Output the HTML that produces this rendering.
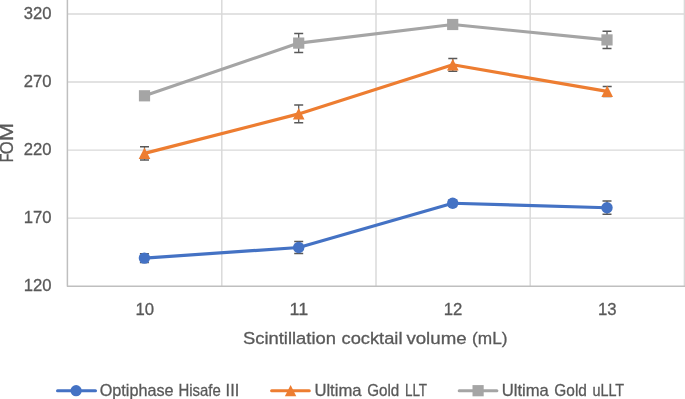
<!DOCTYPE html>
<html lang="en"><head><meta charset="utf-8"><title>FOM vs scintillation cocktail volume</title>
<style>html,body{margin:0;padding:0;background:#fff;overflow:hidden}svg{display:block}</style></head>
<body>
<svg width="685" height="399" viewBox="0 0 685 399">
<rect width="685" height="399" fill="#fff"/>
<g stroke="#d9d9d9" stroke-width="1.45" fill="none">
<line x1="67.4" y1="14.05" x2="685" y2="14.05"/>
<line x1="67.4" y1="82.05" x2="685" y2="82.05"/>
<line x1="67.4" y1="150.1" x2="685" y2="150.1"/>
<line x1="67.4" y1="218.1" x2="685" y2="218.1"/>
<line x1="221.80" y1="0" x2="221.80" y2="286.15"/>
<line x1="376.00" y1="0" x2="376.00" y2="286.15"/>
<line x1="530.20" y1="0" x2="530.20" y2="286.15"/>
<line x1="684.40" y1="0" x2="684.40" y2="286.15"/>
</g>
<path d="M67.4 0V286.15H685" stroke="#bfbfbf" stroke-width="1.5" fill="none" stroke-linejoin="round"/>
<path d="M144.4 258.1L298.7 247.5L452.7 203.3L607.0 207.7" stroke="#4472c4" stroke-width="3.15" fill="none" stroke-linejoin="round" stroke-linecap="round"/>
<g stroke="#595959" stroke-width="1.2" fill="none"><path d="M139.9 253.8h9M139.9 262.4h9" stroke-width="1.5"/><path d="M144.4 253.8V262.4" stroke-width="1.25"/><path d="M294.2 241.4h9M294.2 253.6h9" stroke-width="1.5"/><path d="M298.7 241.4V253.6" stroke-width="1.25"/><path d="M448.2 200.3h9M448.2 206.3h9" stroke-width="1.5"/><path d="M452.7 200.3V206.3" stroke-width="1.25"/><path d="M602.5 201.1h9M602.5 214.3h9" stroke-width="1.5"/><path d="M607.0 201.1V214.3" stroke-width="1.25"/></g>
<circle cx="144.4" cy="258.1" r="5.7" fill="#4472c4"/>
<circle cx="298.7" cy="247.5" r="5.7" fill="#4472c4"/>
<circle cx="452.7" cy="203.3" r="5.7" fill="#4472c4"/>
<circle cx="607.0" cy="207.7" r="5.7" fill="#4472c4"/>
<path d="M144.5 153.4L298.7 113.9L452.8 64.8L607.2 91.4" stroke="#ed7d31" stroke-width="3.15" fill="none" stroke-linejoin="round" stroke-linecap="round"/>
<g stroke="#595959" stroke-width="1.2" fill="none"><path d="M140.0 146.7h9M140.0 160.1h9" stroke-width="1.5"/><path d="M144.5 146.7V160.1" stroke-width="1.25"/><path d="M294.2 105.1h9M294.2 122.7h9" stroke-width="1.5"/><path d="M298.7 105.1V122.7" stroke-width="1.25"/><path d="M448.3 58.4h9M448.3 71.2h9" stroke-width="1.5"/><path d="M452.8 58.4V71.2" stroke-width="1.25"/><path d="M602.7 86.4h9M602.7 96.4h9" stroke-width="1.5"/><path d="M607.2 86.4V96.4" stroke-width="1.25"/></g>
<path d="M144.5 147.4L150.3 159.0H138.7Z" fill="#ed7d31"/>
<path d="M298.7 107.9L304.5 119.5H292.9Z" fill="#ed7d31"/>
<path d="M452.8 58.8L458.6 70.4H447.0Z" fill="#ed7d31"/>
<path d="M607.2 85.4L613.0 97.0H601.4Z" fill="#ed7d31"/>
<path d="M144.5 95.8L298.7 43.1L452.7 24.5L607.0 39.9" stroke="#a5a5a5" stroke-width="3.15" fill="none" stroke-linejoin="round" stroke-linecap="round"/>
<g stroke="#595959" stroke-width="1.2" fill="none"><path d="M294.2 33.6h9M294.2 52.6h9" stroke-width="1.5"/><path d="M298.7 33.6V52.6" stroke-width="1.25"/><path d="M602.5 31.3h9M602.5 48.5h9" stroke-width="1.5"/><path d="M607.0 31.3V48.5" stroke-width="1.25"/></g>
<rect x="138.9" y="90.2" width="11.2" height="11.2" fill="#a5a5a5"/>
<rect x="293.1" y="37.5" width="11.2" height="11.2" fill="#a5a5a5"/>
<rect x="447.1" y="18.9" width="11.2" height="11.2" fill="#a5a5a5"/>
<rect x="601.4" y="34.3" width="11.2" height="11.2" fill="#a5a5a5"/>
<g fill="#595959" stroke="#595959" stroke-width="0.3" font-family="'Liberation Sans', sans-serif">
<text x="23.8" y="19.3" font-size="17" textLength="27.8" lengthAdjust="spacingAndGlyphs">320</text>
<text x="23.8" y="87.3" font-size="17" textLength="27.8" lengthAdjust="spacingAndGlyphs">270</text>
<text x="23.8" y="155.3" font-size="17" textLength="27.8" lengthAdjust="spacingAndGlyphs">220</text>
<text x="23.8" y="223.3" font-size="17" textLength="27.8" lengthAdjust="spacingAndGlyphs">170</text>
<text x="23.8" y="291.3" font-size="17" textLength="27.8" lengthAdjust="spacingAndGlyphs">120</text>
<text x="135.5" y="314.7" font-size="17" textLength="18.6" lengthAdjust="spacingAndGlyphs">10</text>
<text x="289.6" y="314.7" font-size="17" textLength="18.6" lengthAdjust="spacingAndGlyphs">11</text>
<text x="443.7" y="314.7" font-size="17" textLength="18.6" lengthAdjust="spacingAndGlyphs">12</text>
<text x="598.0" y="314.7" font-size="17" textLength="18.6" lengthAdjust="spacingAndGlyphs">13</text>
<text transform="translate(12.6 161.9) rotate(-90)" font-size="17.6"><tspan x="-0.45" textLength="8.7" lengthAdjust="spacingAndGlyphs">F</tspan><tspan x="7.7" textLength="12.9" lengthAdjust="spacingAndGlyphs">O</tspan><tspan x="21.0" textLength="17.9" lengthAdjust="spacingAndGlyphs">M</tspan></text>
<text y="344.2" font-size="17"><tspan x="243.0" textLength="93.0" lengthAdjust="spacingAndGlyphs">Scintillation</tspan> <tspan x="341.5" textLength="61.0" lengthAdjust="spacingAndGlyphs">cocktail</tspan> <tspan x="406.4" textLength="60.2" lengthAdjust="spacingAndGlyphs">volume</tspan> <tspan x="472.1" textLength="35.5" lengthAdjust="spacingAndGlyphs">(mL)</tspan></text>
<text y="395.5" font-size="17"><tspan x="99.7" textLength="73.8" lengthAdjust="spacingAndGlyphs">Optiphase</tspan> <tspan x="178.5" textLength="42.3" lengthAdjust="spacingAndGlyphs">Hisafe</tspan> <tspan x="225.6" textLength="13.6" lengthAdjust="spacingAndGlyphs">III</tspan></text>
<text y="395.5" font-size="17"><tspan x="314.4" textLength="47.2" lengthAdjust="spacingAndGlyphs">Ultima</tspan> <tspan x="367.2" textLength="32.1" lengthAdjust="spacingAndGlyphs">Gold</tspan> <tspan x="404.9" textLength="22.2" lengthAdjust="spacingAndGlyphs">LLT</tspan></text>
<text y="395.5" font-size="17"><tspan x="501.7" textLength="47.1" lengthAdjust="spacingAndGlyphs">Ultima</tspan> <tspan x="554.3" textLength="32.6" lengthAdjust="spacingAndGlyphs">Gold</tspan> <tspan x="592.4" textLength="31.8" lengthAdjust="spacingAndGlyphs">uLLT</tspan></text>
</g>
<path d="M57.5 390.7H95.5" stroke="#4472c4" stroke-width="3" stroke-linecap="round"/><circle cx="76.1" cy="390.7" r="5.6" fill="#4472c4"/>
<path d="M271.6 390.7H309.3" stroke="#ed7d31" stroke-width="3" stroke-linecap="round"/><path d="M290.6 385.0L296.3 396.3H284.9Z" fill="#ed7d31"/>
<path d="M459.2 390.7H496.9" stroke="#a5a5a5" stroke-width="3" stroke-linecap="round"/><rect x="472.5" y="385.1" width="11.2" height="11.2" fill="#a5a5a5"/>
</svg>
</body></html>
